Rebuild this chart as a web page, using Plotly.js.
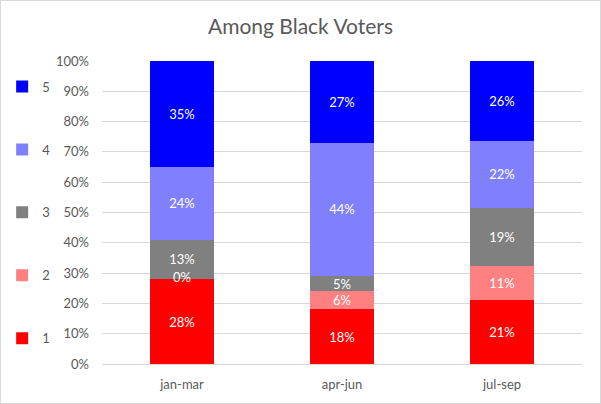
<!DOCTYPE html>
<html>
<head>
<meta charset="utf-8">
<script src="https://cdn.plot.ly/plotly-3.0.1.min.js"></script>
<style>
html,body{margin:0;padding:0;background:#fff;}
#chart{width:601px;height:404px;box-sizing:border-box;border:1px solid #d9d9d9;}
</style>
</head>
<body>
<div id="chart"></div>
<script>
const categories = ["jan-mar", "apr-jun", "jul-sep"];
const seriesNames = ["1", "2", "3", "4", "5"];
const s1 = [28, 18, 21];
const s2 = [0, 6, 11];
const s3 = [13, 5, 19];
const s4 = [24, 44, 22];
const s5 = [35, 27, 26];
const colors = ["#FF0000", "#FF8080", "#808080", "#8080FF", "#0000FF"];
const yTicks = [0,10,20,30,40,50,60,70,80,90,100];

const FONT = "Lato, 'Noto Sans', sans-serif";
const allSeries = [s1, s2, s3, s4, s5];
const totals = categories.map((c, j) => allSeries.reduce((a, s) => a + s[j], 0));

const traces = allSeries.map((vals, i) => ({
  type: "bar",
  name: seriesNames[i],
  x: categories,
  y: vals,
  text: vals.map(v => v + "%"),
  texttemplate: "%{text}",
  textposition: "inside",
  insidetextanchor: "middle",
  constraintext: "none",
  textangle: 0,
  textfont: {color: "#ffffff", size: 13, family: FONT},
  marker: {color: colors[i], line: {width: 0}},
  width: 0.4,
  legendgroup: "g" + i,
  legendrank: 1000 - i * 100,
  hoverinfo: "none"
}));

// labels for zero-height segments (bars cannot show text there)
const zx = [], zy = [], zt = [];
allSeries.forEach((vals, i) => {
  vals.forEach((v, j) => {
    if (v === 0) {
      let below = 0;
      for (let k = 0; k < i; k++) below += allSeries[k][j];
      zx.push(categories[j]);
      zy.push(100 * (below + v / 2) / totals[j]);
      zt.push(v + "%");
    }
  });
});
traces.push({
  type: "scatter",
  mode: "text",
  x: zx,
  y: zy,
  text: zt,
  textposition: "middle center",
  textfont: {color: "#ffffff", size: 13, family: FONT},
  showlegend: false,
  hoverinfo: "none"
});

const layout = {
  width: 599,
  height: 402,
  barmode: "stack",
  barnorm: "percent",
  paper_bgcolor: "#ffffff",
  plot_bgcolor: "#ffffff",
  font: {family: FONT, color: "#595959", size: 13},
  title: {text: "Among Black Voters", font: {size: 21, color: "#595959"}, x: 0.5, xanchor: "center", y: 0.935, yanchor: "middle"},
  margin: {l: 101, r: 18, t: 60, b: 39, autoexpand: false},
  xaxis: {
    type: "category",
    showgrid: false,
    showline: false,
    zeroline: false,
    ticks: "",
    ticklabelstandoff: 11,
    tickfont: {size: 13, color: "#595959"}
  },
  yaxis: {
    range: [0, 100],
    tickvals: yTicks,
    ticktext: yTicks.map(v => v + "%"),
    showgrid: true,
    gridcolor: "#d9d9d9",
    gridwidth: 1,
    zeroline: true,
    zerolinecolor: "#d9d9d9",
    zerolinewidth: 1,
    showline: false,
    ticks: "",
    ticklabelstandoff: 12,
    tickfont: {size: 13, color: "#595959"}
  },
  showlegend: true,
  legend: {
    x: -0.208,
    xanchor: "left",
    y: 0.965,
    yanchor: "top",
    traceorder: "grouped",
    tracegroupgap: 43,
    font: {size: 13, color: "#595959"},
    itemwidth: 30,
    bgcolor: "rgba(0,0,0,0)"
  }
};

Plotly.newPlot("chart", traces, layout, {displayModeBar: false, staticPlot: true});
</script>
</body>
</html>
